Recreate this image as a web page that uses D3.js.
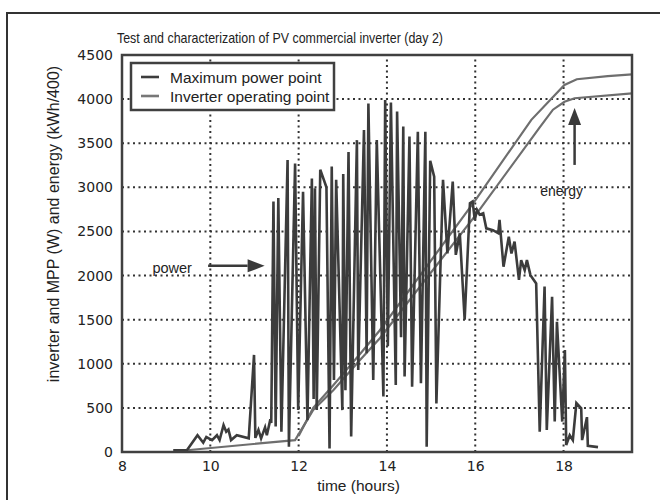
<!DOCTYPE html>
<html>
<head>
<meta charset="utf-8">
<script src="https://cdn.jsdelivr.net/npm/d3@7"></script>
<style>
  body { margin: 0; background: #fff; }
</style>
</head>
<body>
<div id="container"></div>
<script>
// maximum power point (W)
const mppTime = [9.16, 9.47, 9.71, 9.84, 9.91, 10.04, 10.15, 10.21, 10.30, 10.36, 10.41, 10.47, 10.60, 10.87,
  10.99, 11.02, 11.09, 11.15, 11.24, 11.28, 11.36, 11.38,
  11.43, 11.48, 11.54, 11.61, 11.75, 11.78, 11.92, 11.99, 12.10, 12.20, 12.30, 12.34, 12.37, 12.41,
  12.49, 12.63, 12.70, 12.75, 12.80, 12.85, 12.99, 13.01, 13.06, 13.13, 13.19, 13.32, 13.35, 13.48,
  13.54, 13.58, 13.69, 13.77, 13.92, 13.96, 14.02, 14.09, 14.20, 14.23, 14.32, 14.37, 14.40, 14.51,
  14.57, 14.70, 14.77, 14.87, 14.90, 14.98, 15.07, 15.12, 15.27, 15.37, 15.49, 15.56, 15.65, 15.76,
  15.88, 15.94, 15.99, 16.04, 16.10, 16.18, 16.25, 16.40, 16.52, 16.55, 16.64, 16.76, 16.82, 16.89,
  16.99, 17.04, 17.12, 17.17, 17.25, 17.38, 17.46, 17.57, 17.62, 17.74, 17.80, 17.85, 17.97, 18.03,
  18.06, 18.14, 18.21, 18.29, 18.40, 18.42, 18.53, 18.55, 18.78];
const mppPower = [20, 20, 190, 105, 170, 135, 190, 135, 305, 230, 255, 135, 190, 155,
  1100, 160, 250, 155, 280, 190, 370, 330,
  2840, 290, 2880, 230, 3310, 60, 3270, 475, 2950, 360, 3100, 600, 2990, 475,
  3200, 3000, 40, 3235, 815, 3085, 475, 3150, 700, 3400, 175, 3535, 930, 3650,
  1120, 3950, 815, 3535, 630, 3990, 1200, 3960, 760, 3860, 1300, 3690, 855, 3575,
  740, 3630, 780, 3630, 60, 3300, 3120, 550, 3085, 2250, 3065, 2235, 2480, 1500,
  2820, 2840, 2630, 2745, 2690, 2705, 2535, 2515, 2480, 2630, 2100, 2440, 2250, 2385,
  1950, 2175, 2060, 2175, 2005, 1910, 230, 1875, 250, 1760, 345, 1475, 345, 1155,
  80, 190, 135, 555, 495, 135, 395, 70, 55];

// energy curves (kWh/400)
const energyUpperTime = [12.0, 12.33, 12.79, 13.39, 13.84, 16.0, 17.27, 18.02, 18.3, 19.0, 19.55];
const energyUpper = [180, 500, 760, 1110, 1380, 2853, 3765, 4160, 4225, 4260, 4280];
const energyLowerTime = [9.47, 11.92, 12.33, 12.79, 13.39, 13.84, 16.0, 17.46, 17.76, 18.02, 18.25, 19.55];
const energyLower = [20, 135, 476, 703, 1043, 1290, 2680, 3680, 3880, 3970, 4010, 4065];

const xTicks = [8, 10, 12, 14, 16, 18];
const yTicks = [0, 500, 1000, 1500, 2000, 2500, 3000, 3500, 4000, 4500];

const legendLabels = ["Maximum power point", "Inverter operating point"];

let viz = d3.select("#container")
  .append("svg")
    .attr("width", 660)
    .attr("height", 500)
;

const x = d3.scaleLinear().domain([8, 19.55]).range([122, 632]);
const y = d3.scaleLinear().domain([0, 4500]).range([452, 55]);

// outer frame
viz.append("rect")
    .attr("x", 7)
    .attr("y", 13)
    .attr("width", 700)
    .attr("height", 600)
    .attr("fill", "none")
    .attr("stroke", "#333")
    .attr("stroke-width", 2)
;

// grid
viz.append("g")
  .selectAll("line")
  .data(xTicks.slice(1))
  .join("line")
    .attr("x1", d => x(d))
    .attr("x2", d => x(d))
    .attr("y1", y(0))
    .attr("y2", y(4500))
    .attr("stroke", "#333")
    .attr("stroke-width", 2)
    .attr("stroke-dasharray", "2,3.5")
;
viz.append("g")
  .selectAll("line")
  .data(yTicks.slice(1, -1))
  .join("line")
    .attr("x1", x(8))
    .attr("x2", x(19.55))
    .attr("y1", d => y(d))
    .attr("y2", d => y(d))
    .attr("stroke", "#333")
    .attr("stroke-width", 2)
    .attr("stroke-dasharray", "2,3.5")
;

// axes labels
let xAxis = viz.append("g")
    .attr("transform", "translate(0," + y(0) + ")")
    .call(d3.axisBottom(x).tickValues(xTicks).tickSize(0).tickPadding(9).tickFormat(d3.format("d")))
;
let yAxis = viz.append("g")
    .attr("transform", "translate(" + x(8) + ",0)")
    .call(d3.axisLeft(y).tickValues(yTicks).tickSize(0).tickPadding(9).tickFormat(d3.format("d")))
;
[xAxis, yAxis].forEach(a => {
  a.select(".domain").remove();
  a.selectAll("text")
    .attr("font-family", "DejaVu Sans")
    .attr("font-size", 14)
    .attr("fill", "#222");
});

// data lines
const lineOf = (ts, vs) => d3.line()(ts.map((t, i) => [x(t), y(vs[i])]));

viz.append("path")
    .attr("d", lineOf(energyLowerTime, energyLower))
    .attr("fill", "none")
    .attr("stroke", "#6e6e6e")
    .attr("stroke-width", 2.2)
;
viz.append("path")
    .attr("d", lineOf(energyUpperTime, energyUpper))
    .attr("fill", "none")
    .attr("stroke", "#6e6e6e")
    .attr("stroke-width", 2.2)
;
viz.append("path")
    .attr("d", lineOf(mppTime, mppPower))
    .attr("fill", "none")
    .attr("stroke", "#3c3c3c")
    .attr("stroke-width", 2.6)
    .attr("stroke-linejoin", "miter")
;

// plot frame
viz.append("rect")
    .attr("x", x(8))
    .attr("y", y(4500))
    .attr("width", x(19.55) - x(8))
    .attr("height", y(0) - y(4500))
    .attr("fill", "none")
    .attr("stroke", "#404040")
    .attr("stroke-width", 2.5)
;

// annotations
function arrow(x1, y1, x2, y2) {
  const ang = Math.atan2(y2 - y1, x2 - x1);
  const len = 17, hw = 6.5;
  const bx = x2 - len * Math.cos(ang), by = y2 - len * Math.sin(ang);
  viz.append("line")
      .attr("x1", x1).attr("y1", y1)
      .attr("x2", bx).attr("y2", by)
      .attr("stroke", "#3a3a3a")
      .attr("stroke-width", 2.5)
  ;
  viz.append("path")
      .attr("d", "M" + x2 + "," + y2 +
        "L" + (bx + hw * Math.sin(ang)) + "," + (by - hw * Math.cos(ang)) +
        "L" + (bx - hw * Math.sin(ang)) + "," + (by + hw * Math.cos(ang)) + "Z")
      .attr("fill", "#3a3a3a")
  ;
}
arrow(x(9.95), y(2110), x(11.23), y(2110));
arrow(x(18.25), y(3254), x(18.25), y(3900));

viz.append("text")
    .text("power")
    .attr("font-family", "Liberation Sans")
    .attr("font-size", 14.5)
    .attr("fill", "#222")
    .attr("x", x(8.69))
    .attr("y", y(2030))
;
viz.append("text")
    .text("energy")
    .attr("font-family", "Liberation Sans")
    .attr("font-size", 14)
    .attr("fill", "#222")
    .attr("x", x(17.47))
    .attr("y", y(2900))
;

// legend
viz.append("rect")
    .attr("x", 131)
    .attr("y", 63)
    .attr("width", 203)
    .attr("height", 47)
    .attr("fill", "#fff")
    .attr("stroke", "#404040")
    .attr("stroke-width", 2.5)
;
const legendColors = ["#3c3c3c", "#777"];
legendLabels.forEach((lab, i) => {
  viz.append("line")
      .attr("x1", 141)
      .attr("x2", 159)
      .attr("y1", 77 + i * 19)
      .attr("y2", 77 + i * 19)
      .attr("stroke", legendColors[i])
      .attr("stroke-width", 2.6)
  ;
  viz.append("text")
      .text(lab)
      .attr("font-family", "Liberation Sans")
      .attr("font-size", 15.5)
      .attr("fill", "#222")
      .attr("x", 170)
      .attr("y", 82.5 + i * 19)
  ;
});

// titles
viz.append("text")
    .text("Test and characterization of PV commercial inverter (day 2)")
    .attr("font-family", "Liberation Sans Narrow, Liberation Sans")
    .attr("font-size", 15)
    .attr("fill", "#222")
    .attr("x", 117)
    .attr("y", 43)
    .attr("textLength", 326)
    .attr("lengthAdjust", "spacingAndGlyphs")
;
viz.append("text")
    .text("time (hours)")
    .attr("font-family", "Liberation Sans")
    .attr("font-size", 15.5)
    .attr("fill", "#222")
    .attr("text-anchor", "middle")
    .attr("x", 358.5)
    .attr("y", 491)
;
viz.append("text")
    .text("inverter and MPP (W) and energy (kWh/400)")
    .attr("font-family", "Liberation Sans")
    .attr("font-size", 16)
    .attr("fill", "#222")
    .attr("text-anchor", "middle")
    .attr("transform", "translate(59,224) rotate(-90)")
;
</script>
</body>
</html>
